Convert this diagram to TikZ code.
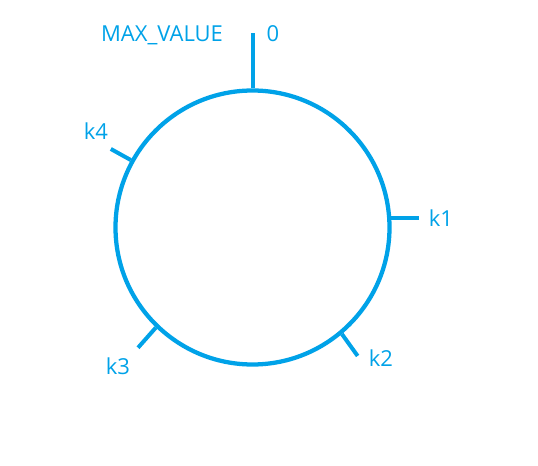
\documentclass[tikz,border=0pt]{standalone}
\usepackage{fontspec}
\setmainfont{Open Sans}
\usetikzlibrary{arrows.meta,shapes,calc}
\definecolor{paintblue}{RGB}{0,162,232}

\begin{document}
\begin{tikzpicture}[x=0.75pt,y=-0.75pt]
  \useasboundingbox (0,0) rectangle (538,466);
  \node[circle,draw=paintblue,line width=3.2pt,inner sep=0pt,minimum size=205.5pt] (ring) at (252.5,227.5) {};
  \begin{scope}[every node/.style={text=paintblue,font=\fontsize{16.5}{18}\selectfont,inner sep=0pt}]
    \node (max) at (162,35)  {MAX\_VALUE};
    \node (zero) at (273,34) {0};
    \node (k1) at (441,218)  {k1};
    \node (k2) at (381,358)  {k2};
    \node (k3) at (118,366)  {k3};
    \node (k4) at (96,131)   {k4};
  \end{scope}
  % tick ends
  \coordinate (t0) at ($(ring.center)+(90:145.9pt)$);
  \coordinate (t1) at ($(ring.4.8)+(21pt,0)$);
  \coordinate (t2) at ($(ring.center)+(-50.7:124.5pt)$);
  \coordinate (t3) at ($(ring.center)+(226.4:124.5pt)$);
  \coordinate (t4) at ($(ring.center)+(151:121.5pt)$);
  \begin{scope}[every edge/.style={draw=paintblue,line width=3pt}]
    \path (ring.90) edge (t0);
    \path (ring.4.8) edge (t1);
    \path (ring.-50.7) edge (t2);
    \path (ring.226.4) edge (t3);
    \path (ring.151) edge (t4);
  \end{scope}
\end{tikzpicture}
\end{document}
